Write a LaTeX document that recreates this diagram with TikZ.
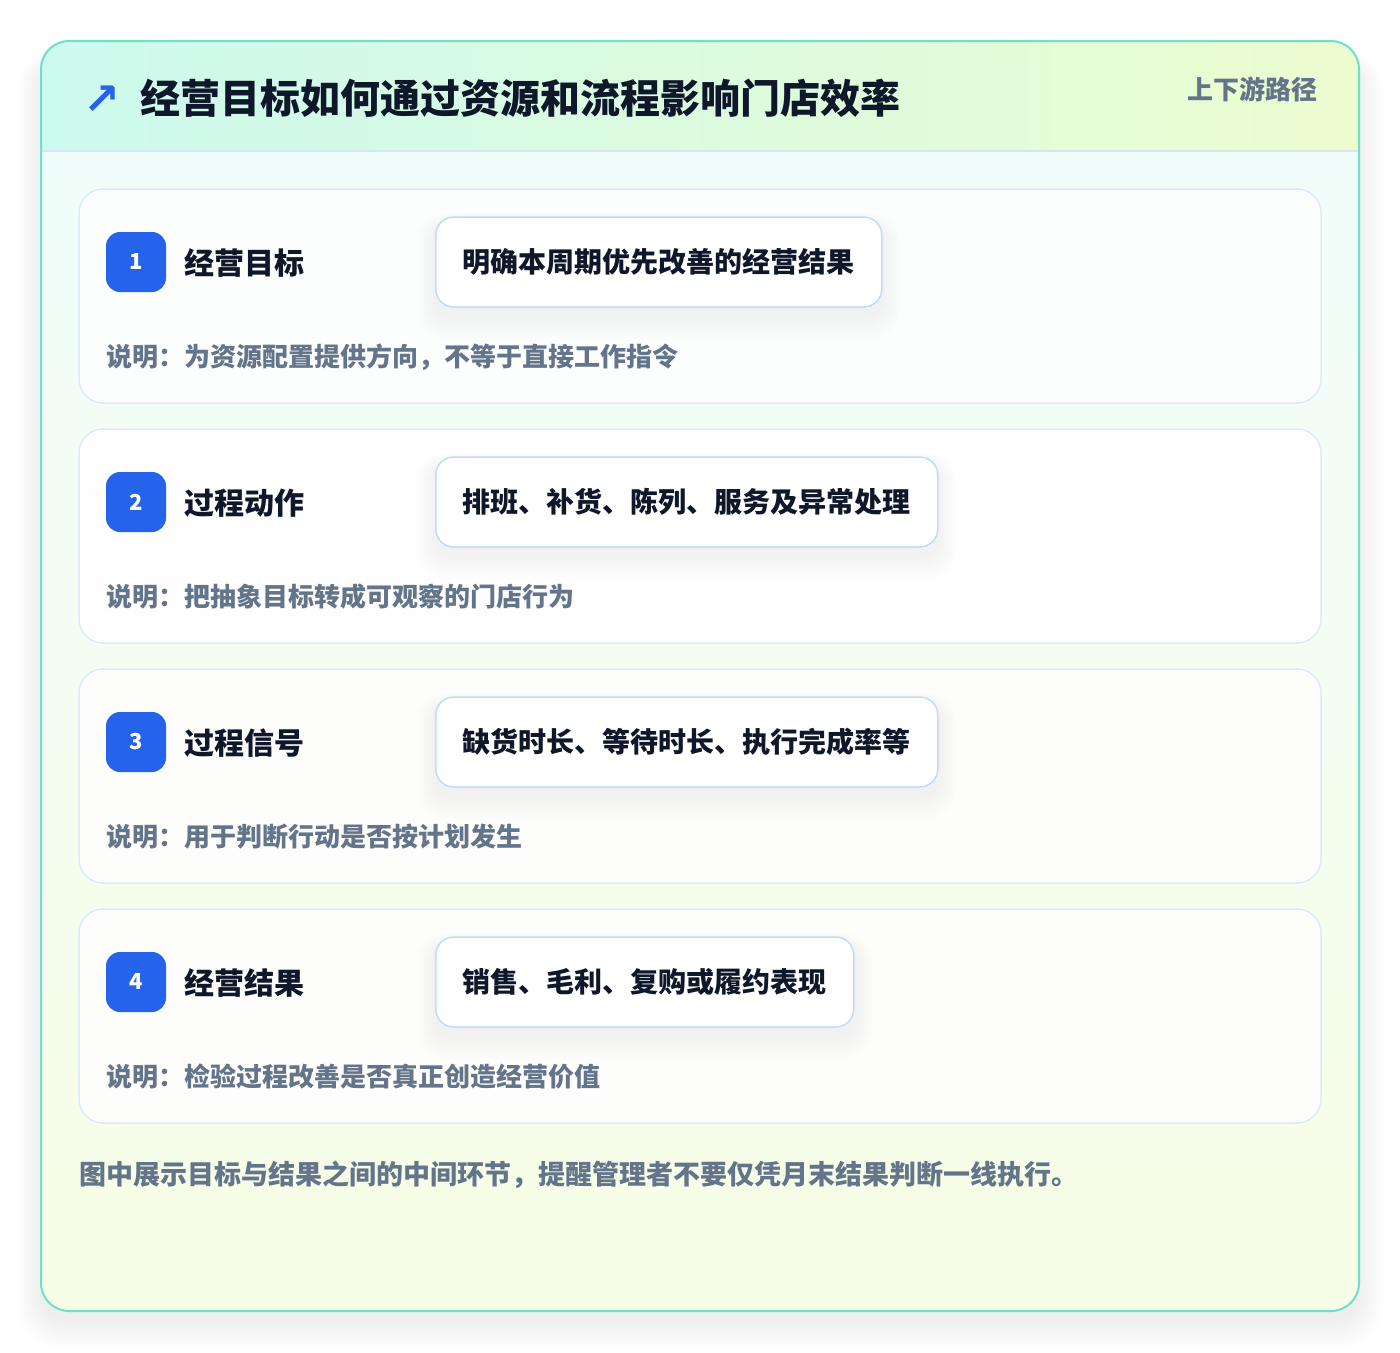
\documentclass[tikz,border=0pt]{standalone}
\usepackage{fontspec}
\setmainfont{Noto Sans CJK SC}
\newfontfamily\symfont{DejaVu Sans}
\definecolor{panelborder}{HTML}{6EE0CB}
\definecolor{headL}{HTML}{CCFAEE}
\definecolor{headR}{HTML}{ECFCCF}
\definecolor{bodyT}{HTML}{F0FDFA}
\definecolor{bodyB}{HTML}{F7FEE6}
\definecolor{headline}{HTML}{D8E6F2}
\definecolor{cardborder}{HTML}{DBEAFE}
\definecolor{pillborder}{HTML}{BFDBFE}
\definecolor{badgeblue}{HTML}{2563EB}
\definecolor{ink}{HTML}{0F172A}
\definecolor{muted}{HTML}{64748B}
\tikzset{
  cardbox/.style={draw=cardborder, line width=1.5pt, fill=white, fill opacity=0.85, draw opacity=1, rounded corners=24pt},
  badge/.style={fill=badgeblue, rounded corners=14pt, minimum width=60pt, minimum height=60pt, inner sep=0pt,
    text=white, font=\fontsize{22}{26}\selectfont\bfseries},
  steplabel/.style={anchor=west, inner sep=0pt, text=ink, font=\fontsize{30}{36}\selectfont\bfseries},
  pill/.style={anchor=west, draw=pillborder, line width=1.5pt, fill=white, rounded corners=18pt,
    minimum height=90pt, inner xsep=27pt, inner ysep=0pt, text=ink, font=\fontsize{28}{34}\selectfont\bfseries},
  desc/.style={anchor=west, inner sep=0pt, text=muted, font=\fontsize{26}{30}\selectfont\bfseries},
}
\begin{document}
\begin{tikzpicture}[x=1pt,y=-1pt]
\useasboundingbox (0,0) rectangle (1400,1352);
\fill[white] (0,0) rectangle (1400,1352);
% panel shadow
\foreach \i in {1,...,16}{
  \fill[black, opacity=0.005, rounded corners={28pt+\i pt}] (41-\i*1.5,41-\i*0.5+16) rectangle (1359+\i*1.5,1311+\i*1.8+10);
}
% panel body
\begin{scope}
  \clip[rounded corners=28pt] (41,41) rectangle (1359,1311);
  \shade[top color=bodyT, bottom color=bodyB] (41,151) rectangle (1359,1311);
  \shade[left color=headL, right color=headR] (41,41) rectangle (1359,151);
  \draw[headline, line width=1.5pt] (41,151) -- (1359,151);
\end{scope}
\draw[panelborder, line width=2pt, rounded corners=28pt] (41,41) rectangle (1359,1311);
% header
\node[anchor=center, inner sep=0pt, text=badgeblue, font=\symfont\fontsize{44}{48}\selectfont\bfseries] (icon) at (102,100) {↗};
\node[anchor=west, inner sep=0pt, text=ink, font=\fontsize{40}{48}\selectfont\bfseries] (title) at (140,98) {经营目标如何通过资源和流程影响门店效率};
\node[anchor=east, inner sep=0pt, text=muted, font=\fontsize{26}{30}\selectfont\bfseries] (tag) at (1318,89) {上下游路径};
% cards
\foreach \n/\lab/\pil/\des in {
  1/经营目标/明确本周期优先改善的经营结果/说明：为资源配置提供方向，不等于直接工作指令,
  2/过程动作/排班、补货、陈列、服务及异常处理/说明：把抽象目标转成可观察的门店行为,
  3/过程信号/缺货时长、等待时长、执行完成率等/说明：用于判断行动是否按计划发生,
  4/经营结果/销售、毛利、复购或履约表现/说明：检验过程改善是否真正创造经营价值}{
  \pgfmathsetmacro{\yy}{189+240*(\n-1)}
  \draw[cardbox] (79,\yy) rectangle (1321,\yy+214);
  \node[badge] (badge\n) at (136,\yy+73) {\n};
  \node[steplabel] (label\n) at (184,\yy+74) {\lab};
  % pill footprint for shadow
  \node[pill, draw=none, fill=none, text opacity=0] (ghost\n) at (435,\yy+73) {\pil};
  \foreach \k in {1,...,12}{
    \fill[black, opacity=0.004, rounded corners={18pt+\k pt}]
      ([xshift=-\k*1.5pt, yshift=\k*1pt-8pt]ghost\n.north west) rectangle ([xshift=\k*1.5pt, yshift=-\k*2pt-8pt]ghost\n.south east);
  }
  \node[pill] (pill\n) at (435,\yy+73) {\pil};
  \node[desc] (desc\n) at (106,\yy+168) {\des};
}
\node[desc, font=\fontsize{27}{31}\selectfont\bfseries] (footer) at (79,1175) {图中展示目标与结果之间的中间环节，提醒管理者不要仅凭月末结果判断一线执行。};
\end{tikzpicture}
\end{document}
